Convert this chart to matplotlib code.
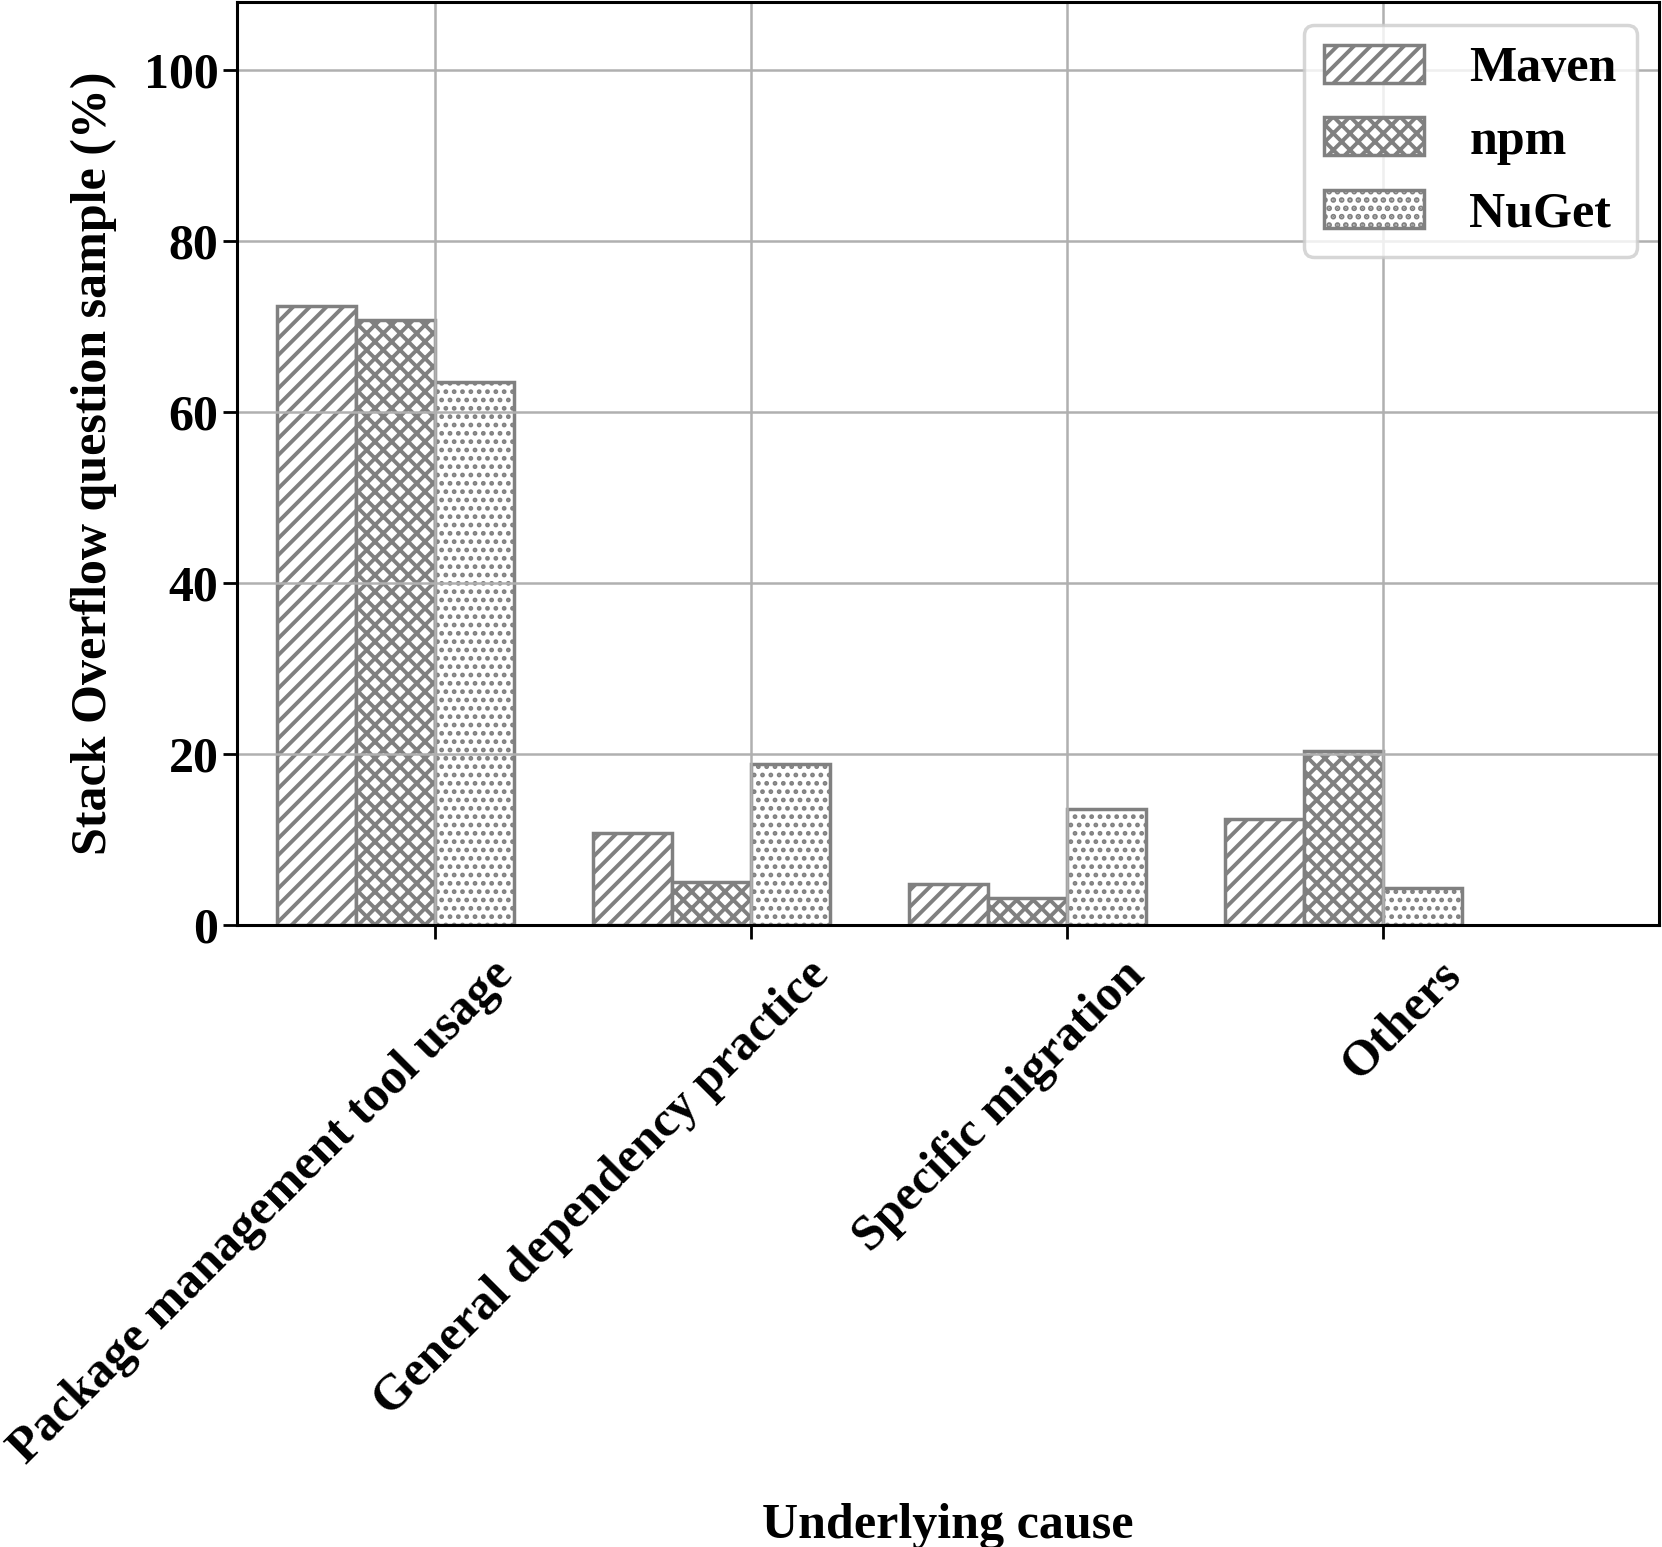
import numpy as np
import matplotlib
matplotlib.use('Agg')
import matplotlib.pyplot as plt
import matplotlib.transforms as mtransforms

# data
causes = ['Package management tool usage', 'General dependency practice',
          'Specific migration', 'Others']
ecosystems = ['Maven', 'npm', 'NuGet']
maven = [72.4, 10.8, 4.8, 12.4]
npm = [70.8, 5.1, 3.2, 20.4]
nuget = [63.6, 18.8, 13.6, 4.3]
hatches = ['//', 'xx', '..']
hatch_lw = [2.8, 2.8, 2.2]

plt.rcParams['font.family'] = ['Liberation Serif', 'DejaVu Serif']
plt.rcParams['font.weight'] = 'bold'
plt.rcParams['axes.labelweight'] = 'bold'
plt.rcParams['font.size'] = 36
plt.rcParams['hatch.linewidth'] = 2.8
plt.rcParams['hatch.color'] = 'gray'

fig = plt.figure(figsize=(16.62, 15.47), dpi=100)
ax = fig.add_axes([0.1426, 0.402, 0.8556, 0.5967])

x = np.arange(len(causes))
w = 0.25
for i, (vals, name, h) in enumerate(zip([maven, npm, nuget], ecosystems, hatches)):
    with plt.rc_context({'hatch.linewidth': hatch_lw[i]}):
        ax.bar(x + i * w, vals, w, label=name, color='white', edgecolor='gray',
               hatch=h, linewidth=2.5)

ax.set_xlim(-0.25, 4.25)
ax.set_ylim(0, 108)
ax.set_yticks([0, 20, 40, 60, 80, 100])
ax.set_xticks(x + 1.5 * w)
ax.tick_params(length=10, width=2)
ax.set_xticklabels(causes, rotation=45, ha='right', va='top', rotation_mode='anchor')

ax.grid(True, color='#b0b0b0', linewidth=1.8)
for s in ax.spines.values():
    s.set_linewidth(2.2)

ax.set_ylabel('Stack Overflow question sample (%)', labelpad=19)
ax.set_xlabel('Underlying cause', labelpad=22)

leg = ax.legend(loc='upper right', borderaxespad=0.45, handlelength=2.0,
                handleheight=0.8, handletextpad=0.9)
leg.get_frame().set_linewidth(2.5)

# shift the rotated labels to the right, like in the paper figure
fig.canvas.draw()
offset = mtransforms.ScaledTranslation(0.55, -0.08, fig.dpi_scale_trans)
for lab in ax.get_xticklabels():
    lab.set_transform(lab.get_transform() + offset)

fig.savefig('out.png', dpi=100)
